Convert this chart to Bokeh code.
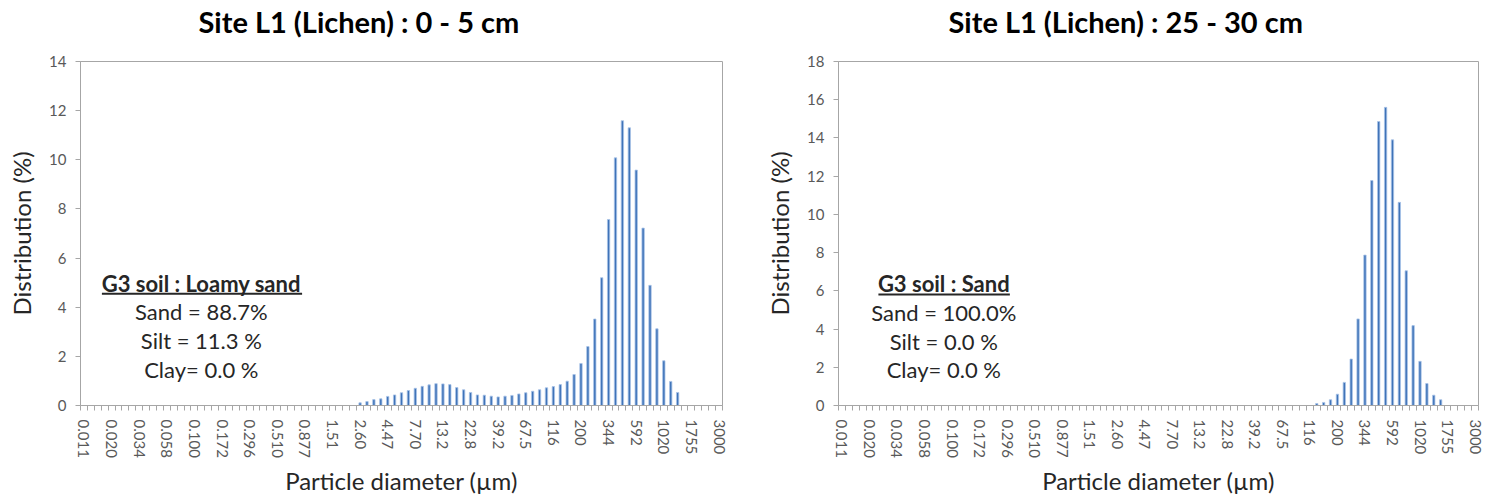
from bokeh.plotting import figure
from bokeh.models import Range1d, FixedTicker, Label, Title
from bokeh.layouts import row
from bokeh.embed import file_html
from bokeh.resources import INLINE

# ---------------- data ----------------
tick_labels = ["0.011", "0.020", "0.034", "0.058", "0.100", "0.172", "0.296", "0.510",
               "0.877", "1.51", "2.60", "4.47", "7.70", "13.2", "22.8", "39.2", "67.5",
               "116", "200", "344", "592", "1020", "1755", "3000"]
n_bins = 93            # size classes (every 4th is labelled)
bins_per_label = 4

# Site L1 (Lichen) 0-5 cm : first non-zero class index and values (%)
l05_start = 40
l05_values = [0.11, 0.16, 0.24, 0.27, 0.37, 0.43, 0.52, 0.61, 0.70, 0.78, 0.84, 0.89,
              0.88, 0.85, 0.73, 0.64, 0.53, 0.43, 0.42, 0.38, 0.35, 0.38, 0.41, 0.47,
              0.52, 0.58, 0.64, 0.72, 0.77, 0.85, 0.99, 1.26, 1.71, 2.40, 3.52, 5.20,
              7.57, 10.08, 11.59, 11.30, 9.58, 7.22, 4.89, 3.12, 1.82, 0.98, 0.53]

# Site L1 (Lichen) 25-30 cm
l2530_start = 69
l2530_values = [0.10, 0.16, 0.30, 0.59, 1.21, 2.43, 4.53, 7.87, 11.77, 14.86, 15.60,
                13.90, 10.63, 7.05, 4.18, 2.31, 1.15, 0.54, 0.30]

panels = [
    dict(title="Site L1 (Lichen) : 0 - 5 cm", start=l05_start, values=l05_values, ymax=14,
         head="G3 soil : Loamy sand",
         lines=["Sand = 88.7%", "Silt = 11.3 %", "Clay= 0.0 %"]),
    dict(title="Site L1 (Lichen) : 25 - 30 cm", start=l2530_start, values=l2530_values, ymax=18,
         head="G3 soil : Sand",
         lines=["Sand = 100.0%", "Silt = 0.0 %", "Clay= 0.0 %"]),
]

# ---------------- styling / layout ----------------
FONT = "Lato"
BAR_FILL = "#3f73b8"
BAR_LINE = "#a9c4e8"
AXIS_GRAY = "#a6a6a6"
TICK_TXT = "#595959"

layout_cfg = [
    dict(border_left=80, border_right=22, frame_w=642, title_offset=118,
         note_x=17.0, note_y=[4.97, 3.83, 2.65, 1.47], ul_y=4.55, ul_x=(2.6, 31.6)),
    dict(border_left=94, border_right=10, frame_w=640, title_offset=110,
         note_x=14.8, note_y=[6.40, 4.88, 3.36, 1.89], ul_y=5.81, ul_x=(5.3, 24.4)),
]

figs = []
for pan, cfg in zip(panels, layout_cfg):
    p = figure(frame_width=cfg["frame_w"], frame_height=344,
               min_border_left=cfg["border_left"], min_border_right=cfg["border_right"],
               min_border_top=61, min_border_bottom=88,
               x_range=Range1d(-0.5, n_bins - 0.5), y_range=Range1d(0, pan["ymax"]),
               output_backend="svg", toolbar_location=None)
    # empty spacer title nearest the frame, so the real title sits higher
    p.add_layout(Title(text=" ", standoff=0, text_font=FONT, text_font_size="17px"), "above")
    p.add_layout(Title(text=pan["title"], align="left", offset=cfg["title_offset"],
                       vertical_align="bottom", standoff=0,
                       text_font=FONT, text_font_size="29px", text_font_style="bold",
                       text_color="#000000"), "above")

    xs = [pan["start"] + i for i in range(len(pan["values"]))]
    p.vbar(x=xs, top=pan["values"], width=0.34, bottom=0,
           fill_color=BAR_FILL, line_color=BAR_LINE, line_width=0.8)

    # axes
    label_pos = [i * bins_per_label for i in range(len(tick_labels))]
    p.xaxis.ticker = FixedTicker(ticks=label_pos,
                                 minor_ticks=[i - 0.5 for i in range(n_bins + 1)])
    p.xaxis.major_label_overrides = {pos: lab for pos, lab in zip(label_pos, tick_labels)}
    p.xaxis.major_label_orientation = "vertical"
    p.xaxis.major_tick_out = 0
    p.xaxis.major_tick_in = 0
    p.xaxis.minor_tick_out = 5
    p.xaxis.minor_tick_in = 0
    p.xaxis.minor_tick_line_color = AXIS_GRAY
    p.xaxis.major_label_standoff = 9
    p.xaxis.axis_label = "Particle diameter (µm)"
    p.xaxis.axis_label_standoff = 5

    p.yaxis.ticker = FixedTicker(ticks=list(range(0, pan["ymax"] + 1, 2)))
    p.yaxis.major_tick_out = 5
    p.yaxis.major_tick_in = 0
    p.yaxis.minor_tick_line_color = None
    p.yaxis.major_label_standoff = 9
    p.yaxis.axis_label = "Distribution (%)"
    p.yaxis.axis_label_standoff = 10

    for ax in (p.xaxis[0], p.yaxis[0]):
        ax.axis_line_color = AXIS_GRAY
        ax.major_tick_line_color = AXIS_GRAY
        ax.major_label_text_font = FONT
        ax.major_label_text_font_size = "15px"
        ax.major_label_text_color = TICK_TXT
        ax.axis_label_text_font = FONT
        ax.axis_label_text_font_size = "24px"
        ax.axis_label_text_font_style = "normal"
        ax.axis_label_text_color = "#262626"

    p.grid.visible = False
    p.outline_line_color = AXIS_GRAY
    p.outline_line_width = 1
    p.background_fill_color = "white"
    p.border_fill_color = "white"

    # soil texture note
    texts = [pan["head"]] + pan["lines"]
    for k, (t, yy) in enumerate(zip(texts, cfg["note_y"])):
        p.add_layout(Label(x=cfg["note_x"], y=yy, text=t, text_align="center",
                           text_baseline="middle", text_font=FONT,
                           text_font_size="22px",
                           text_font_style="bold" if k == 0 else "normal",
                           text_color="#262626"))
    p.segment(x0=[cfg["ul_x"][0]], x1=[cfg["ul_x"][1]], y0=[cfg["ul_y"]], y1=[cfg["ul_y"]],
              line_color="#262626", line_width=2)
    figs.append(p)

layout = row(*figs, spacing=0)
open("out.html", "w").write(file_html(layout, INLINE))
